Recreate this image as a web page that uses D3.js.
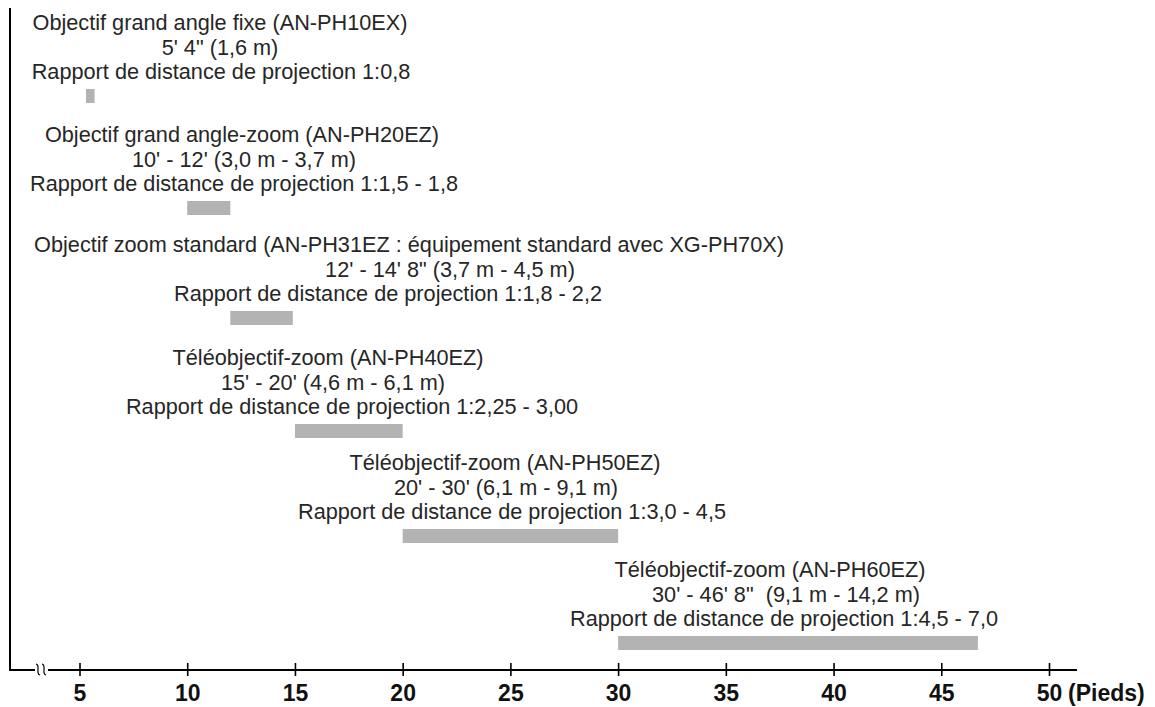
<!DOCTYPE html>
<html><head><meta charset="utf-8">
<script src="https://cdn.jsdelivr.net/npm/d3@7"></script>
<style>
html,body{margin:0;padding:0;background:#fff;}
svg{display:block;}
</style></head>
<body>
<svg id="chart" width="1155" height="707"></svg>
<script>
// ---- data ----
const lenses = ["AN-PH10EX","AN-PH20EZ","AN-PH31EZ","AN-PH40EZ","AN-PH50EZ","AN-PH60EZ"];
const lensTitles = [
  "Objectif grand angle fixe (AN-PH10EX)",
  "Objectif grand angle-zoom (AN-PH20EZ)",
  "Objectif zoom standard (AN-PH31EZ : équipement standard avec XG-PH70X)",
  "Téléobjectif-zoom (AN-PH40EZ)",
  "Téléobjectif-zoom (AN-PH50EZ)",
  "Téléobjectif-zoom (AN-PH60EZ)"
];
const distanceLabels = [
  "5' 4\" (1,6 m)",
  "10' - 12' (3,0 m - 3,7 m)",
  "12' - 14' 8\" (3,7 m - 4,5 m)",
  "15' - 20' (4,6 m - 6,1 m)",
  "20' - 30' (6,1 m - 9,1 m)",
  "30' - 46' 8\"  (9,1 m - 14,2 m)"
];
const ratioLabels = [
  "Rapport de distance de projection 1:0,8",
  "Rapport de distance de projection 1:1,5 - 1,8",
  "Rapport de distance de projection 1:1,8 - 2,2",
  "Rapport de distance de projection 1:2,25 - 3,00",
  "Rapport de distance de projection 1:3,0 - 4,5",
  "Rapport de distance de projection 1:4,5 - 7,0"
];
const rangeStart = [5.3, 10, 12, 15, 20, 30];
const rangeEnd   = [5.7, 12, 14.9, 20, 30, 46.7];
const tickValues = [5, 10, 15, 20, 25, 30, 35, 40, 45, 50];
const unitLabel = "(Pieds)";

// ---- layout (not data): row tops and pixel centres of each label line ----
const rowTops = [89, 201, 311, 424, 529, 636];
const labelCenters = [
  [220, 220, 221],
  [242, 244, 244],
  [409, 450, 388],
  [328, 333, 352],
  [505, 506, 512],
  [770, 786, 784]
];

const svg = d3.select("#chart");
const x = d3.scaleLinear().domain([5, 50]).range([79.5, 1049]);
const y = d3.scaleOrdinal().domain(lenses).range(rowTops);
const barH = 14;
const axisY = 670;
const textColor = "#262626";
const font = "'Liberation Sans', Arial, Helvetica, sans-serif";

// vertical axis line
svg.append("line").attr("x1", 10).attr("x2", 10).attr("y1", 8).attr("y2", axisY + 1)
  .attr("stroke", "#000").attr("stroke-width", 2);
// horizontal axis line
svg.append("line").attr("x1", 9).attr("x2", 1077).attr("y1", axisY).attr("y2", axisY)
  .attr("stroke", "#000").attr("stroke-width", 2);

// axis ticks
const axis = d3.axisBottom(x).tickValues(tickValues).tickFormat(d3.format("d")).tickSize(6);
const gAxis = svg.append("g").attr("transform", `translate(0,${axisY})`).call(axis);
gAxis.select(".domain").remove();
gAxis.selectAll(".tick line").attr("y1", -7).attr("y2", 6).attr("stroke", "#000").attr("stroke-width", 1.6);
gAxis.selectAll(".tick text").attr("y", 31).attr("dy", 0)
  .attr("font-family", font).attr("font-weight", "bold").attr("font-size", 23).attr("fill", "#111");
// unit label after 50
svg.append("text").attr("x", x(50) + 19).attr("y", axisY + 31)
  .attr("font-family", font).attr("font-weight", "bold").attr("font-size", 23).attr("fill", "#111")
  .text(unitLabel);

// break symbol
const brk = svg.append("g");
brk.append("rect").attr("x", 35).attr("y", axisY - 2).attr("width", 13).attr("height", 4).attr("fill", "#fff");
[36, 42].forEach(bx => {
  brk.append("path")
    .attr("d", `M${bx},${axisY - 6} C${bx + 5},${axisY - 5} ${bx - 1},${axisY + 4} ${bx + 4},${axisY + 5}`)
    .attr("fill", "none").attr("stroke", "#000").attr("stroke-width", 1.2);
});

// bars
svg.append("g").selectAll("rect").data(lenses).join("rect")
  .attr("x", (d, i) => x(rangeStart[i]))
  .attr("width", (d, i) => x(rangeEnd[i]) - x(rangeStart[i]))
  .attr("y", d => y(d))
  .attr("height", barH)
  .attr("fill", "#b3b3b3");

// labels
const lineOffsets = [-59, -34, -10];
lenses.forEach((d, i) => {
  const lines = [lensTitles[i], distanceLabels[i], ratioLabels[i]];
  lines.forEach((t, j) => {
    svg.append("text")
      .attr("x", labelCenters[i][j])
      .attr("y", y(d) + lineOffsets[j])
      .attr("text-anchor", "middle")
      .attr("font-family", font)
      .attr("font-size", 21.7)
      .attr("fill", textColor)
      .style("white-space", "pre")
      .text(t);
  });
});
</script>
</body></html>
